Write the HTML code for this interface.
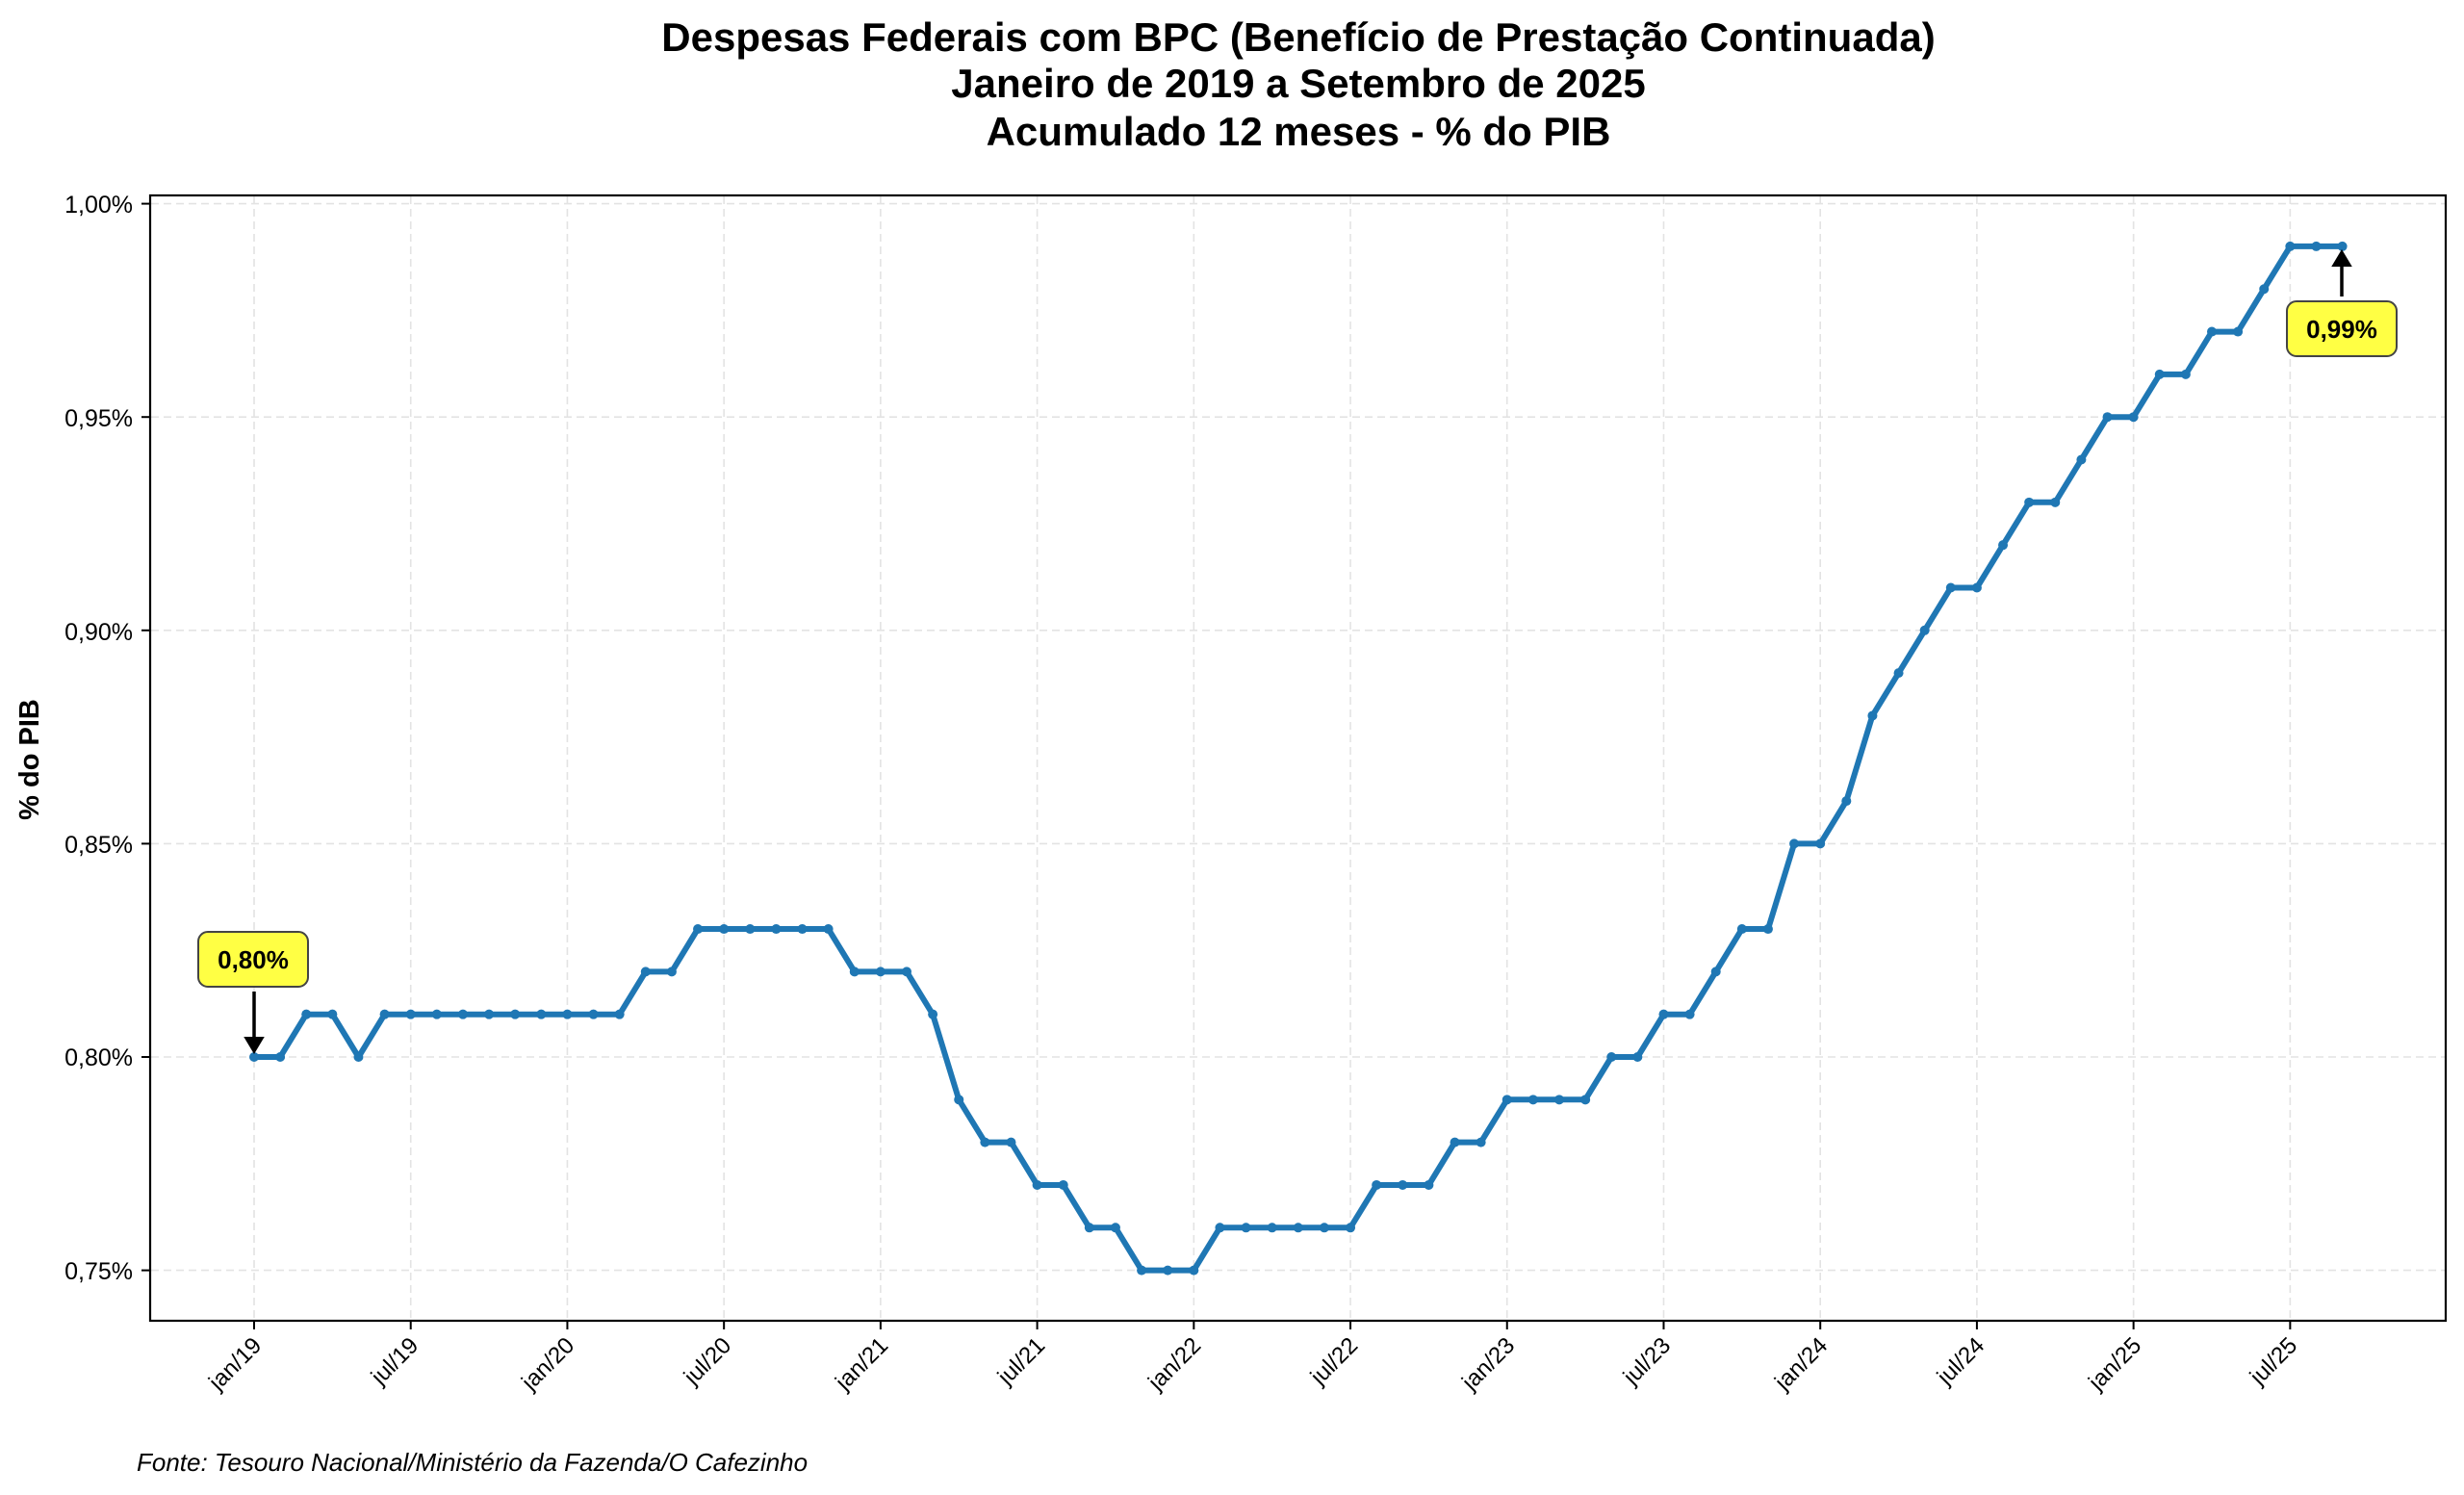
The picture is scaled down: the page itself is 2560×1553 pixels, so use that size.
<!DOCTYPE html>
<html><head><meta charset="utf-8">
<style>
html,body{margin:0;padding:0;background:#fff;}
svg{display:block;font-family:"Liberation Sans","DejaVu Sans",sans-serif;}
</style></head>
<body>
<svg id="s" width="2560" height="1553" viewBox="0 0 2560 1553" xmlns="http://www.w3.org/2000/svg">
<rect width="2560" height="1553" fill="#fff"/>
<g font-weight="bold" font-size="42" text-anchor="middle" fill="#000">
<text x="1349" y="53">Despesas Federais com BPC (Benefício de Prestação Continuada)</text>
<text x="1349" y="101">Janeiro de 2019 a Setembro de 2025</text>
<text x="1349" y="151">Acumulado 12 meses - % do PIB</text>
</g>
<g id="grid" stroke="#e3e3e3" stroke-width="1.6" stroke-dasharray="8,5"></g>
<rect x="156" y="203" width="2385" height="1169" fill="none" stroke="#000" stroke-width="2.2"/>
<g id="ticks" stroke="#000" stroke-width="2"></g>
<g font-size="25" text-anchor="end" fill="#000">
<text x="138" y="221">1,00%</text>
<text x="138" y="443">0,95%</text>
<text x="138" y="665">0,90%</text>
<text x="138" y="886">0,85%</text>
<text x="138" y="1107">0,80%</text>
<text x="138" y="1329">0,75%</text>
</g>
<text transform="translate(40,789) rotate(-90)" font-size="29" font-weight="bold" text-anchor="middle">% do PIB</text>
<g font-size="24" text-anchor="end" fill="#000" id="xl">
<text transform="translate(273,1399) rotate(-45)">jan/19</text>
<text transform="translate(436,1399) rotate(-45)">jul/19</text>
<text transform="translate(598,1399) rotate(-45)">jan/20</text>
<text transform="translate(761,1399) rotate(-45)">jul/20</text>
<text transform="translate(924,1399) rotate(-45)">jan/21</text>
<text transform="translate(1087,1399) rotate(-45)">jul/21</text>
<text transform="translate(1249,1399) rotate(-45)">jan/22</text>
<text transform="translate(1412,1399) rotate(-45)">jul/22</text>
<text transform="translate(1575,1399) rotate(-45)">jan/23</text>
<text transform="translate(1737,1399) rotate(-45)">jul/23</text>
<text transform="translate(1900,1399) rotate(-45)">jan/24</text>
<text transform="translate(2063,1399) rotate(-45)">jul/24</text>
<text transform="translate(2226,1399) rotate(-45)">jan/25</text>
<text transform="translate(2388,1399) rotate(-45)">jul/25</text>
</g>
<g id="series"></g>
<rect x="206" y="968" width="114" height="57" rx="10" fill="#ffff44" stroke="#444" stroke-width="2"/>
<text x="263" y="1006" font-size="26" font-weight="bold" text-anchor="middle">0,80%</text>
<line x1="264" y1="1030" x2="264" y2="1082" stroke="#000" stroke-width="3.5"/>
<path d="M255,1078 L264,1093 L273,1078 Z" fill="#000" stroke="#000" stroke-width="2"/>
<rect x="2376" y="313" width="114" height="57" rx="10" fill="#ffff44" stroke="#444" stroke-width="2"/>
<text x="2433" y="351" font-size="26" font-weight="bold" text-anchor="middle">0,99%</text>
<line x1="2433" y1="308" x2="2433" y2="272" stroke="#000" stroke-width="3.5"/>
<path d="M2424,276 L2433,261 L2442,276 Z" fill="#000" stroke="#000" stroke-width="2"/>
<text x="142" y="1528" font-size="26" font-style="italic">Fonte: Tesouro Nacional/Ministério da Fazenda/O Cafezinho</text>
</svg>
<script>
var ns="http://www.w3.org/2000/svg";
function X(m){return 264+m*27.12;}
function Y(v){return 1098-(v-0.80)/0.05*221.6;}
var d=[.80,.80,.81,.81,.80,.81,.81,.81,.81,.81,.81,.81,
.81,.81,.81,.82,.82,.83,.83,.83,.83,.83,.83,.82,
.82,.82,.81,.79,.78,.78,.77,.77,.76,.76,.75,.75,
.75,.76,.76,.76,.76,.76,.76,.77,.77,.77,.78,.78,
.79,.79,.79,.79,.80,.80,.81,.81,.82,.83,.83,.85,
.85,.86,.88,.89,.90,.91,.91,.92,.93,.93,.94,.95,
.95,.96,.96,.97,.97,.98,.99,.99,.99];
var g=document.getElementById("grid"),t=document.getElementById("ticks"),s=document.getElementById("series");
function ln(p,a,b,c,e){var l=document.createElementNS(ns,"line");l.setAttribute("x1",a);l.setAttribute("y1",b);l.setAttribute("x2",c);l.setAttribute("y2",e);p.appendChild(l);}
for(var k=0;k<14;k++){var x=X(k*6);ln(g,x,204,x,1371);ln(t,x,1372,x,1381);}
[1.0,.95,.90,.85,.80,.75].forEach(function(v){var y=Y(v);ln(g,157,y,2540,y);ln(t,147,y,156,y);});
var pts=d.map(function(v,i){return X(i).toFixed(1)+","+Y(v).toFixed(1);}).join(" ");
var pl=document.createElementNS(ns,"polyline");pl.setAttribute("points",pts);pl.setAttribute("fill","none");pl.setAttribute("stroke","#1f77b4");pl.setAttribute("stroke-width","6");pl.setAttribute("stroke-linejoin","round");s.appendChild(pl);
d.forEach(function(v,i){var c=document.createElementNS(ns,"circle");c.setAttribute("cx",X(i));c.setAttribute("cy",Y(v));c.setAttribute("r","5");c.setAttribute("fill","#1f77b4");s.appendChild(c);});
</script>
</body></html>
